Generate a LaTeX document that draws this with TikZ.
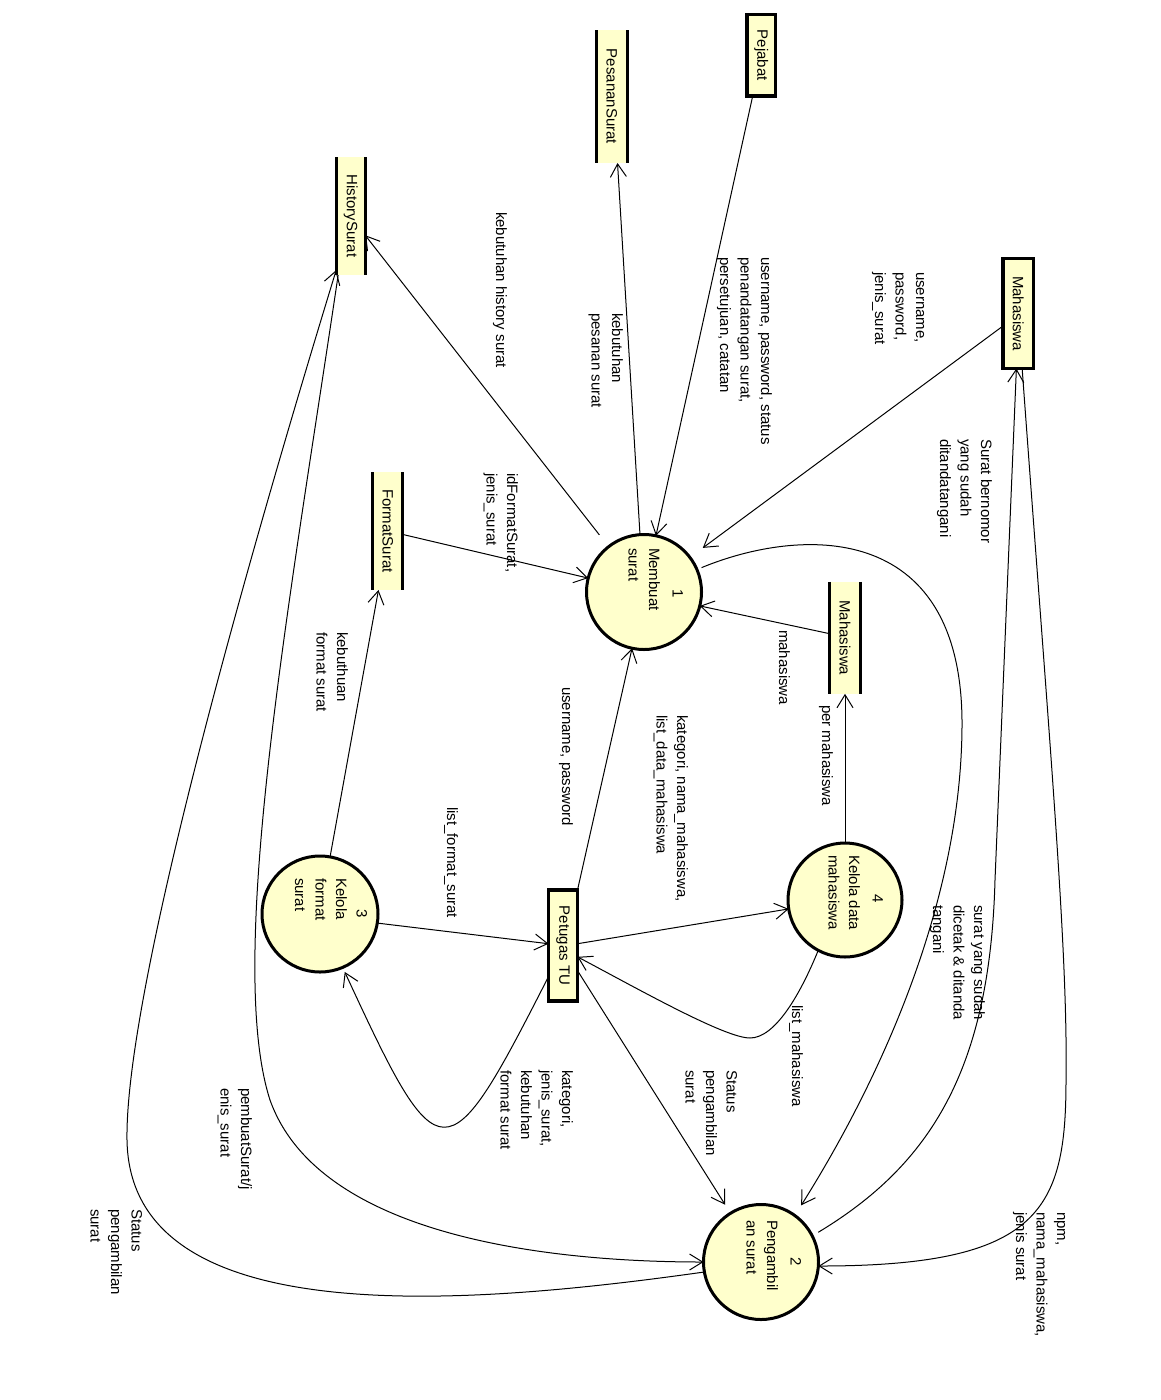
\documentclass[tikz,border=0pt]{standalone}
\usepackage{fontspec}
\setmainfont{Liberation Sans}
\usetikzlibrary{arrows.meta}
\definecolor{ylw}{HTML}{FFFFCC}
\newcommand\labfont{\fontsize{15}{20.5}\selectfont}
\begin{document}
\begin{tikzpicture}[x=1pt,y=-1pt,
  every node/.style={inner sep=0pt,outer sep=0pt,font=\labfont},
  ext/.style={draw,line width=3.5pt,fill=ylw,rectangle},
  store/.style={fill=ylw,rectangle},
  stline/.style={line width=3pt},
  proc/.style={draw,line width=3pt,fill=ylw,circle,minimum size=115pt},
  boxtxt/.style={rotate=-90},
  num/.style={rotate=-90,anchor=north},
  lab/.style={rotate=-90,anchor=north west,align=left},
  flow/.style={line width=1pt,-{Straight Barb[length=13pt,width=16pt]}}]
\fill[white] (0,0) rectangle (1160,1400);
\useasboundingbox (0,0) rectangle (1160,1400);

% external entities
\node[ext,minimum width=28.3pt,minimum height=81.5pt] (pej) at (761.35,55.25) {};
\node[boxtxt] (pejt) at (pej) {Pejabat};
\node[ext,minimum width=30.3pt,minimum height=109.8pt] (mext) at (1018.3,313.6) {};
\node[boxtxt] (mextt) at (mext) {Mahasiswa};
\node[ext,minimum width=29pt,minimum height=111pt] (pet) at (563,945.5) {};
\node[boxtxt] (pett) at (pet) {Petugas TU};

% data stores
\node[store,minimum width=31pt,minimum height=133pt] (ps) at (611.7,96.5) {};
\draw[stline] (ps.north west) -- (ps.south west) (ps.north east) -- (ps.south east);
\node[boxtxt] (pst) at (ps) {PesananSurat};
\node[store,minimum width=29pt,minimum height=118pt] (hist) at (350.7,216) {};
\draw[stline] (hist.north west) -- (hist.south west) (hist.north east) -- (hist.south east);
\node[boxtxt] (histt) at (hist) {HistorySurat};
\node[store,minimum width=30pt,minimum height=118pt] (fs) at (387.8,531) {};
\draw[stline] (fs.north west) -- (fs.south west) (fs.north east) -- (fs.south east);
\node[boxtxt] (fst) at (fs) {FormatSurat};
\node[store,minimum width=30.8pt,minimum height=112pt] (ms) at (845,637.8) {};
\draw[stline] (ms.north west) -- (ms.south west) (ms.north east) -- (ms.south east);
\node[boxtxt] (mst) at (ms) {Mahasiswa};

% processes
\node[proc] (c1) at (644,592) {};
\node[num] (c1n) at (683,593.5) {1};
\node[lab] (c1t) at (660,548) {Membuat\\surat};
\node[proc] (c2) at (761,1262) {};
\node[num] (c2n) at (801,1262) {2};
\node[lab] (c2t) at (778,1220) {Pengambil\\an surat};
\node[proc,minimum size=116pt] (c3) at (320,914) {};
\node[num] (c3n) at (367,914) {3};
\node[lab] (c3t) at (347,878) {Kelola\\format\\surat};
\node[proc,minimum size=114pt] (c4) at (845,900) {};
\node[num] (c4n) at (883,899) {4};
\node[lab] (c4t) at (860,855) {Kelola data\\mahasiswa};

% flows
\draw[flow] (pej.-102) -- (c1.78);
\draw[flow] (c1.94) -- (ps.-85);
\draw[flow,shorten <=15pt] (c1.128) -- (hist.-53);
\draw[flow,shorten >=16pt] (mext.219) -- (c1.37);
\draw[flow] (fs.-13) -- (c1.166);
\draw[flow] (ms.165) -- (c1.-14);
\draw[flow] (pet.north east) -- (c1.-102);
\draw[flow] (c4.90) -- (ms.south);
\draw[flow] (pet.7) -- (c4.189);
\draw[flow] (c4.-118) .. controls (800,995) and (775,1038) .. (750,1038) .. controls (725,1038) and (640,990) .. (pet.-38);
\draw[flow,shorten >=5pt] (pet.245) .. controls (446,1178) and (440,1178) .. (c3.-67);
\draw[flow] (c3.-9) -- (pet.173);
\draw[flow] (c3.80) -- (fs.261);
\draw[flow,shorten >=10pt] (pet.-60) -- (c2.122);
\draw[flow,shorten <=5pt,shorten >=12pt] (c1.23) .. controls (800,527) and (960,520) .. (962,720) .. controls (963,900) and (880,1080) .. (c2.54);
\draw[flow,shorten <=7pt] (c2.27) .. controls (930,1165) and (990,1070) .. (995,880) -- (mext.268.5);
\draw[flow] (mext.274.6) .. controls (1050,750) and (1068,950) .. (1066,1080) .. controls (1066,1210) and (1040,1266) .. (c2.-4);
\draw[flow] (hist.258) .. controls (290,600) and (225,960) .. (270,1100) .. controls (320,1240) and (560,1262) .. (c2.180);
\draw[flow] (c2.190) .. controls (470,1305) and (130,1335) .. (127,1140) .. controls (125,1010) and (220,650) .. (hist.255);

% flow labels
\node[lab] (l1) at (507,212) {kebutuhan history surat};
\node[lab] (l2) at (623,313) {kebutuhan\\pesanan surat};
\node[lab] (l3) at (772,257) {username, password, status\\penandatangan surat,\\persetujuan, catatan};
\node[lab] (l4) at (927,272) {\vphantom{Sh}username,\\password,\\jenis\_surat};
\node[lab] (l5) at (518,473) {idFormatSurat,\\jenis\_surat};
\node[lab] (l6) at (992,439) {Surat bernomor\\yang sudah\\ditandatangani};
\node[lab] (l7) at (790,630) {mahasiswa};
\node[lab] (l8) at (833,705) {per mahasiswa};
\node[lab] (l9) at (688,715) {kategori, nama\_mahasiswa,\\list\_data\_mahasiswa};
\node[lab] (l10) at (573,687) {username, password};
\node[lab] (l11) at (458,807) {list\_format\_surat};
\node[lab] (l12) at (348,632) {kebuthuan\\format surat};
\node[lab] (l13) at (573,1070) {kategori,\\jenis\_surat,\\kebutuhan\\format surat};
\node[lab] (l14) at (803,1005) {list\_mahasiswa};
\node[lab] (l15) at (737,1070) {Status\\pengambilan\\surat};
\node[lab] (l16) at (985,905) {surat yang sudah\\dicetak \& ditanda\\tangani};
\node[lab] (l17) at (1068,1212) {\vphantom{Sh}npm,\\nama\_mahasiswa,\\jenis surat};
\node[lab] (l18) at (252,1088) {pembuatSurat/j\\enis\_surat};
\node[lab] (l19) at (142,1209) {Status\\pengambilan\\surat};
\end{tikzpicture}
\end{document}
